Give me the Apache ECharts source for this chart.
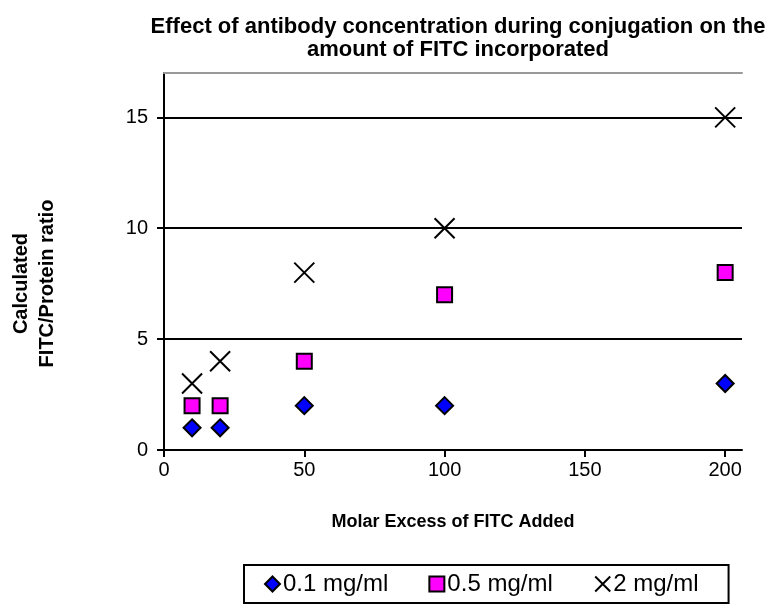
<!DOCTYPE html>
<html>
<head>
<meta charset="utf-8">
<script src="https://cdn.jsdelivr.net/npm/echarts@6/dist/echarts.min.js"></script>
<style>
  html, body { margin: 0; padding: 0; background: #fff; }
  #chart { width: 770px; height: 607px; }
</style>
</head>
<body>
<div id="chart"></div>
<script>
var molarExcess = [10, 20, 50, 100, 200];
var conc01 = [1, 1, 2, 2, 3];
var conc05 = [2, 2, 4, 7, 8];
var conc2 = [3, 4, 8, 10, 15];
var seriesNames = ['0.1 mg/ml', '0.5 mg/ml', '2 mg/ml'];

function pairs(ys) {
  return molarExcess.map(function (x, i) { return [x, ys[i]]; });
}

var chart = echarts.init(document.getElementById('chart'));
var font = 'Liberation Sans, Arial, sans-serif';
var crossPath = 'path://M0,0L10,10M10,0L0,10';

var option = {
  animation: false,
  textStyle: { fontFamily: font },
  title: {
    text: 'Effect of antibody concentration during conjugation on the\namount of FITC incorporated',
    left: 453,
    textAlign: 'center',
    top: 10,
    textStyle: { fontSize: 22, fontWeight: 'bold', color: '#000', lineHeight: 23, fontFamily: font }
  },
  grid: { left: 164, right: 28, top: 73, bottom: 157 },
  legend: {
    data: seriesNames,
    left: 244,
    top: 565,
    padding: [7, 30, 7, 20],
    itemGap: 40,
    itemWidth: 15,
    itemHeight: 15,
    borderColor: '#000',
    borderWidth: 2,
    textStyle: { fontSize: 24, color: '#000', fontFamily: font, padding: [0, 0, 0, -2] }
  },
  xAxis: [{
    type: 'value',
    min: 0,
    max: 206,
    interval: 50,
    name: 'Molar Excess of FITC Added',
    nameLocation: 'middle',
    nameGap: 63,
    nameTextStyle: { fontSize: 18, fontWeight: 'bold', color: '#000' },
    axisLine: { lineStyle: { color: '#000', width: 2 } },
    axisTick: { inside: false, length: 7, lineStyle: { color: '#000', width: 2 } },
    axisLabel: { fontSize: 20, color: '#000', margin: 10, showMaxLabel: false },
    splitLine: { show: false }
  }, {
    type: 'value',
    position: 'top',
    min: 0,
    max: 206,
    axisLine: { show: true, lineStyle: { color: '#999', width: 2 } },
    axisTick: { show: false },
    axisLabel: { show: false },
    splitLine: { show: false }
  }],
  yAxis: {
    type: 'value',
    min: 0,
    max: 17,
    interval: 5,
    name: 'Calculated\nFITC/Protein ratio',
    nameLocation: 'middle',
    nameRotate: 90,
    nameGap: 104,
    nameTextStyle: { fontSize: 20, fontWeight: 'bold', color: '#000', lineHeight: 26, padding: [0, 44, 0, 0] },
    axisLine: { show: true, lineStyle: { color: '#000', width: 2 } },
    axisTick: { show: true, length: 7, lineStyle: { color: '#000', width: 2 } },
    axisLabel: { fontSize: 20, color: '#000', margin: 16, showMaxLabel: false },
    splitLine: { show: true, lineStyle: { color: '#000', width: 2 } }
  },
  series: [{
    name: seriesNames[0],
    type: 'scatter',
    symbol: 'diamond',
    symbolSize: [17, 17],
    itemStyle: { color: '#0000ff', borderColor: '#000', borderWidth: 2, opacity: 1 },
    data: pairs(conc01)
  }, {
    name: seriesNames[1],
    type: 'scatter',
    symbol: 'rect',
    symbolSize: 15,
    itemStyle: { color: '#ff00ff', borderColor: '#000', borderWidth: 2, opacity: 1 },
    data: pairs(conc05)
  }, {
    name: seriesNames[2],
    type: 'scatter',
    symbol: crossPath,
    symbolSize: 20,
    itemStyle: { color: 'none', borderColor: '#000', borderWidth: 2, opacity: 1 },
    data: pairs(conc2)
  }]
};

chart.setOption(option);
</script>
</body>
</html>
